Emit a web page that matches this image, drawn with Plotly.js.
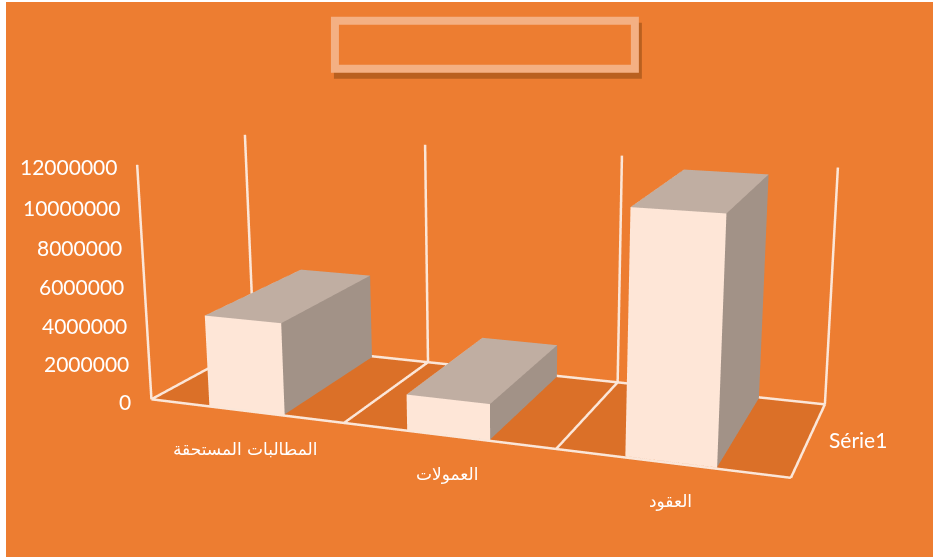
<!DOCTYPE html>
<html><head><meta charset="utf-8">
<script src="https://cdn.plot.ly/plotly-3.0.1.min.js"></script>
<style>
html,body{margin:0;padding:0;background:#fff;overflow:hidden}
#page{position:absolute;left:0;top:0;width:935px;height:557px;overflow:hidden;background:#fff}
#panel{position:absolute;left:6px;top:2px;right:2px;bottom:0;background:#ED7D31}
#chart{position:absolute;left:0;top:-332.7px;width:1012.2px;height:1238.6px}
</style></head>
<body><div id="page"><div id="panel"></div><div id="chart"></div></div>
<script>
// Chart data
const categories = ['المطالبات المستحقة', 'العمولات', 'العقود'];
const values = [4650000, 1750000, 11500000];
const seriesName = 'Série1';
const valueTicks = [0, 2000000, 4000000, 6000000, 8000000, 10000000, 12000000];

// Scene geometry
const VALUE_MAX = 12000000, X_PAD = 0.03, Y_PAD = 0.02, Z_PAD = 300000, FLOOR_Z = -70000;
const BAR_CENTER = 0.498, BAR_HALF = 0.196, BAR_FRONT = 0.015, BAR_BACK = 0.985;
const ASPECT = {x: 2.2, y: 0.7238, z: 0.8187};

// Plot canvas is larger than the page: it sets the lens of the fixed 45-degree camera.
const PLOT_W = 1012.2, PLOT_H = 1238.6, PLOT_TOP = -332.7;

// Palette
const FACE = {front: '#FEE6D7', top: '#C0AEA2', side: '#A29287', hidden: '#DB7028'};
const FLOOR = '#DB7028', FRAME = '#FBE6D8', TEXT = '#FFFFFF', PANEL = '#ED7D31';

const flat = {ambient: 1, diffuse: 0, specular: 0, roughness: 1, fresnel: 0};

function bar(category, value) {
  const x0 = category + BAR_CENTER - BAR_HALF, x1 = category + BAR_CENTER + BAR_HALF;
  const y0 = BAR_FRONT, y1 = BAR_BACK;
  const c = FACE;
  return {
    type: 'mesh3d',
    x: [x0, x1, x1, x0, x0, x1, x1, x0],
    y: [y0, y0, y1, y1, y0, y0, y1, y1],
    z: [0, 0, 0, 0, value, value, value, value],
    i: [0, 0, 4, 4, 0, 0, 1, 1, 2, 2, 3, 3],
    j: [1, 2, 5, 6, 1, 5, 2, 6, 3, 7, 0, 4],
    k: [2, 3, 6, 7, 5, 4, 6, 5, 7, 6, 4, 7],
    facecolor: [c.hidden, c.hidden, c.top, c.top, c.front, c.front, c.side, c.side, c.side, c.side, c.front, c.front],
    flatshading: true, lighting: flat, hoverinfo: 'skip', showscale: false
  };
}

function rule(x, y, z) {
  return {type: 'scatter3d', mode: 'lines', x, y, z, line: {color: FRAME, width: 5}, hoverinfo: 'skip'};
}

const N = categories.length;
const traces = values.map((v, i) => bar(i, v));

// Floor plate under the bars
traces.push({
  type: 'mesh3d', x: [0, N, N, 0], y: [0, 0, 1, 1], z: [FLOOR_Z, FLOOR_Z, FLOOR_Z, FLOOR_Z],
  i: [0, 0], j: [1, 2], k: [2, 3], facecolor: [FLOOR, FLOOR], lighting: flat, hoverinfo: 'skip'
});

// Category dividers on the floor, uprights on the back wall, and the value axis
for (let k = 0; k <= N; k++) {
  traces.push(rule([k, k], [0, 1], [0, 0]));
  traces.push(rule([k, k], [1, 1], [0, VALUE_MAX]));
}
traces.push(rule([0, N], [0, 0], [0, 0]), rule([0, N], [1, 1], [0, 0]), rule([0, 0], [0, 0], [0, VALUE_MAX]));

// Labels sit at 3D anchors and stay upright on screen
const latin = s => ({family: 'Lato, sans-serif', size: s, color: TEXT});
const arabic = {family: "'DejaVu Sans', 'Noto Sans', sans-serif", size: 17, color: TEXT};
const sceneLabels = [];
valueTicks.forEach(t => sceneLabels.push({
  x: 0, y: 0, z: t, text: String(t), showarrow: false, xanchor: 'right', yanchor: 'middle',
  xshift: -18, yshift: -2, font: latin(21)
}));
categories.forEach((c, i) => sceneLabels.push({
  x: i + 0.5, y: 0, z: 0, text: c, showarrow: false, xanchor: 'center', yanchor: 'middle',
  yshift: -38, font: arabic
}));
sceneLabels.push({
  x: N, y: 0.5, z: 0, text: seriesName, showarrow: false, xanchor: 'left', yanchor: 'middle',
  xshift: 18, yshift: -1, font: latin(21)
});

// Empty chart-title box with its drop shadow, given in page pixels
const px = v => v / PLOT_W, py = v => 1 - (v - PLOT_TOP) / PLOT_H;
const rect = (x0, y0, x1, y1, fill) => ({
  type: 'rect', xref: 'paper', yref: 'paper', layer: 'below',
  x0: px(x0), x1: px(x1), y0: py(y0), y1: py(y1), fillcolor: fill, line: {width: 0}
});

Plotly.newPlot('chart', traces, {
  width: PLOT_W, height: PLOT_H, margin: {l: 0, r: 0, t: 0, b: 0},
  paper_bgcolor: 'rgba(0,0,0,0)', showlegend: false,
  shapes: [rect(334, 23, 642, 79, '#B9601F'), rect(331, 17, 639, 73, '#F4B083'), rect(339, 25, 631, 65, PANEL)],
  scene: {
    domain: {x: [0, 1], y: [0, 1]},
    aspectmode: 'manual',
    aspectratio: {
      x: ASPECT.x * (N + 2 * X_PAD) / N,
      y: ASPECT.y * (1 + 2 * Y_PAD),
      z: ASPECT.z * (VALUE_MAX + 2 * Z_PAD) / VALUE_MAX
    },
    camera: {
      eye: {x: 1.7, y: -4.5833, z: 1.2311},
      center: {x: 0.0476, y: 0.0669, z: -0.0125},
      up: {x: -0.0052, y: -0.0467, z: 35.6293},
      projection: {type: 'perspective'}
    },
    xaxis: {visible: false, range: [-X_PAD, N + X_PAD]},
    yaxis: {visible: false, range: [-Y_PAD, 1 + Y_PAD]},
    zaxis: {visible: false, range: [-Z_PAD, VALUE_MAX + Z_PAD]},
    annotations: sceneLabels
  }
}, {displayModeBar: false});
</script></body></html>
